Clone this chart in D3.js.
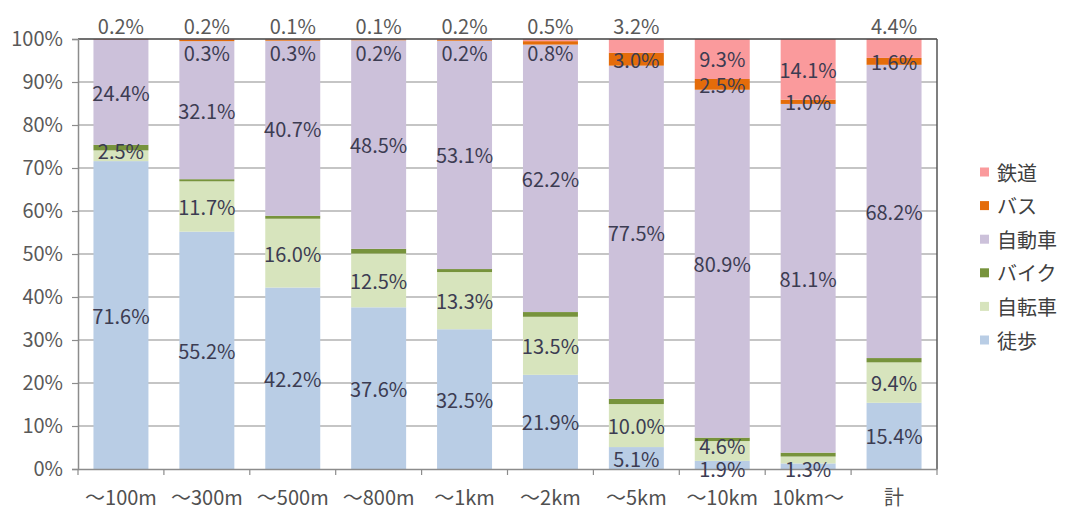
<!DOCTYPE html>
<html><head><meta charset="utf-8">
<script src="https://cdn.jsdelivr.net/npm/d3@7/dist/d3.min.js"></script>
<style>body{margin:0;background:#fff}text{font-family:"Noto Sans CJK JP","Noto Sans",sans-serif}</style>
</head><body><svg id="c" width="1071" height="511"></svg>
<script>
const categories = ["～100m","～300m","～500m","～800m","～1km","～2km","～5km","～10km","10km～","計"];
const seriesNames = ["徒歩","自転車","バイク","自動車","バス","鉄道"];
const walk    = [71.6,55.2,42.2,37.6,32.5,21.9,5.1,1.9,1.3,15.4];
const bicycle = [2.5,11.7,16.0,12.5,13.3,13.5,10.0,4.6,1.6,9.4];
const motorbike=[1.3,0.5,0.7,1.1,0.7,1.1,1.2,0.8,0.9,1.0];
const car     = [24.4,32.1,40.7,48.5,53.1,62.2,77.5,80.9,81.1,68.2];
const bus     = [0.0,0.3,0.3,0.2,0.2,0.8,3.0,2.5,1.0,1.6];
const rail    = [0.2,0.2,0.1,0.1,0.2,0.5,3.2,9.3,14.1,4.4];
const yTicks  = [0,10,20,30,40,50,60,70,80,90,100];
const colors  = {"徒歩":"#b9cde5","自転車":"#d7e4bd","バイク":"#77933c","自動車":"#ccc1da","バス":"#e46c0a","鉄道":"#fa9a9c"};
const hiddenLabels = [["自転車","10km～"]];

const values = {"徒歩":walk,"自転車":bicycle,"バイク":motorbike,"自動車":car,"バス":bus,"鉄道":rail};
const table = categories.map((c,i)=>{const o={cat:c}; seriesNames.forEach(s=>o[s]=values[s][i]); return o;});

const svg = d3.select("#c");
const L=78,R=937,T=39,B=469;
const x = d3.scaleBand().domain(categories).range([L,R]).paddingInner(0.36).paddingOuter(0.18);
const y = d3.scaleLinear().domain([0,100]).range([B,T]);

// gridlines
svg.append("g").selectAll("line").data(yTicks.filter(t=>t>0&&t<100)).join("line")
  .attr("x1",L).attr("x2",R).attr("y1",d=>y(d)).attr("y2",d=>y(d)).attr("stroke","#8c8c8c").attr("stroke-width",1.2);

const stack = d3.stack().keys(seriesNames)(table);
const g = svg.append("g");
stack.forEach(layer=>{
  g.append("g").attr("fill",colors[layer.key]).selectAll("rect").data(layer).join("rect")
    .attr("x",d=>x(d.data.cat)).attr("width",x.bandwidth())
    .attr("y",d=>y(d[1])).attr("height",d=>y(d[0])-y(d[1]));
});

// frame
svg.append("line").attr("x1",L).attr("x2",R).attr("y1",T).attr("y2",T).attr("stroke","#404040").attr("stroke-width",1.5);
svg.append("line").attr("x1",R).attr("x2",R).attr("y1",T).attr("y2",B).attr("stroke","#555").attr("stroke-width",1.5);

// axes
const yAxis = d3.axisLeft(y).tickValues(yTicks).tickSize(6).tickFormat(d=>d+"%").tickPadding(9);
const ya = svg.append("g").attr("transform",`translate(${L},0)`).call(yAxis);
ya.select(".domain").attr("stroke","#8c8c8c").attr("stroke-width",1.5);
ya.selectAll(".tick line").attr("stroke","#8c8c8c").attr("stroke-width",1.2);
ya.selectAll("text").attr("font-size",20).attr("fill","#595959");

const xAxis = d3.axisBottom(x).tickSize(0).tickPadding(22);
const xa = svg.append("g").attr("transform",`translate(0,${B})`).call(xAxis);
xa.select(".domain").attr("stroke","#8c8c8c").attr("stroke-width",1.5);
xa.selectAll("text").attr("font-size",20).attr("fill","#505050");
// category boundary ticks
xa.append("g").selectAll("line").data(d3.range(categories.length+1)).join("line")
  .attr("x1",i=>L+i*x.step()).attr("x2",i=>L+i*x.step()).attr("y1",0).attr("y2",6)
  .attr("stroke","#8c8c8c").attr("stroke-width",1.2);

// data labels
const lab = svg.append("g").attr("font-size",20).attr("fill","#3c3c52").attr("text-anchor","middle").attr("dominant-baseline","central");
stack.forEach(layer=>{
  const s = layer.key;
  if (s==="バイク") return;
  layer.forEach(d=>{
    const v = d.data[s];
    if (v<=0) return;
    if (hiddenLabels.some(h=>h[0]===s&&h[1]===d.data.cat)) return;
    let cy = (y(d[0])+y(d[1]))/2;
    if (s==="鉄道" && v<5) { cy = T-14; }
    if (s==="バス") cy = Math.max(cy, T+13);
    if (s==="徒歩" && v<3) cy = B-1;
    if (s==="自転車" && v<5) cy -= 5;
    const t = lab.append("text").attr("x",x(d.data.cat)+x.bandwidth()/2).attr("y",cy).text(v.toFixed(1)+"%");
    if (s==="鉄道" && v<5) t.attr("fill","#595959");
  });
});

// legend
const legOrder = seriesNames.slice().reverse();
const lg = svg.append("g").attr("transform","translate(980,172)");
legOrder.forEach((s,i)=>{
  const it = lg.append("g").attr("transform",`translate(0,${i*33.6})`);
  it.append("rect").attr("x",0).attr("y",-4.5).attr("width",9).attr("height",9).attr("fill",colors[s]);
  it.append("text").attr("x",17).attr("y",0).attr("dominant-baseline","central").attr("font-size",20).attr("fill","#404040").text(s);
});
</script></body></html>
